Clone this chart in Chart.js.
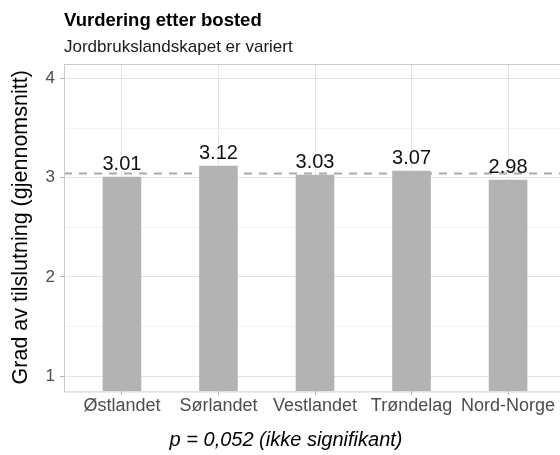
<!DOCTYPE html>
<html>
<head>
<meta charset="utf-8">
<script src="https://cdn.jsdelivr.net/npm/chart.js@4.4.1/dist/chart.umd.min.js"></script>
<style>
    html, body { margin: 0; padding: 0; background: #fff; overflow: hidden; }
    #wrap { width: 572px; height: 455px; }
</style>
</head>
<body>
<div id="wrap"><canvas id="chart"></canvas></div>
<script>
// Data
const regions = ['Østlandet', 'Sørlandet', 'Vestlandet', 'Trøndelag', 'Nord-Norge'];
const means = [3.01, 3.12, 3.03, 3.07, 2.98];
const yTicks = [1, 1.5, 2, 2.5, 3, 3.5, 4];
const caption = 'p = 0,052 (ikke signifikant)';

const FONT = "'Liberation Sans', Arial, Helvetica, sans-serif";
const overall = means.reduce((a, b) => a + b, 0) / means.length;

// Tekst over søylene
const valueLabels = {
    id: 'valueLabels',
    afterDatasetsDraw(chart) {
        const { ctx } = chart;
        const meta = chart.getDatasetMeta(0);
        ctx.save();
        ctx.font = `20px ${FONT}`;
        ctx.fillStyle = '#111';
        ctx.textAlign = 'center';
        ctx.textBaseline = 'alphabetic';
        meta.data.forEach((bar, i) => {
            ctx.fillText(means[i].toFixed(2), bar.x, bar.y - 7);
        });
        ctx.restore();
    }
};

// Ramme rundt panelet
const panelBorder = {
    id: 'panelBorder',
    afterDatasetsDraw(chart) {
        const { ctx, chartArea: a } = chart;
        ctx.save();
        ctx.strokeStyle = '#cccccc';
        ctx.lineWidth = 1;
        ctx.strokeRect(Math.round(a.left) + 0.5, Math.round(a.top) + 0.5, a.right - a.left, a.bottom - a.top);
        ctx.restore();
    }
};

// x-tittel sentrert mellom panelkant og siste kategori (som i originalen)
const captionDraw = {
    id: 'captionDraw',
    afterDraw(chart) {
        const { ctx, chartArea: a } = chart;
        const x = chart.scales.x;
        const cx = (a.left + x.getPixelForValue(regions.length - 1)) / 2;
        ctx.save();
        ctx.font = `italic 20px ${FONT}`;
        ctx.fillStyle = '#000';
        ctx.textAlign = 'center';
        ctx.textBaseline = 'middle';
        ctx.fillText(caption, cx, x.bottom - 3 - 12);
        ctx.restore();
    }
};

new Chart(document.getElementById('chart'), {
    data: {
        datasets: [{
            type: 'bar',
            data: means.map((v, i) => ({ x: i, y: v })),
            backgroundColor: '#b3b3b3',
            barPercentage: 0.4,
            categoryPercentage: 1,
            order: 1
        }, {
            type: 'line',
            data: [{ x: -0.6, y: overall }, { x: regions.length - 0.4, y: overall }],
            borderColor: '#aaaaaa',
            borderWidth: 2,
            borderDash: [8, 7],
            pointRadius: 0,
            order: 2
        }]
    },
    options: {
        responsive: true,
        maintainAspectRatio: false,
        animation: false,
        layout: { padding: { left: 8, right: 6, top: 0, bottom: 0 } },
        plugins: {
            legend: { display: false },
            tooltip: { enabled: false },
            title: {
                display: true,
                text: 'Vurdering etter bosted',
                align: 'start',
                fullSize: false,
                color: '#000',
                font: { family: FONT, size: 18.5, weight: 'bold' },
                padding: { top: 10, bottom: 3 }
            },
            subtitle: {
                display: true,
                text: 'Jordbrukslandskapet er variert',
                align: 'start',
                fullSize: false,
                color: '#1a1a1a',
                font: { family: FONT, size: 17 },
                padding: { top: 2, bottom: 6 }
            }
        },
        scales: {
            x: {
                type: 'linear',
                offset: false,
                min: -0.6,
                max: regions.length - 0.4,
                afterBuildTicks: s => { s.ticks = regions.map((_, i) => ({ value: i })); },
                afterFit: s => { s.height = 64; },
                ticks: {
                    autoSkip: false,
                    maxRotation: 0,
                    padding: 0,
                    color: '#4d4d4d',
                    font: { family: FONT, size: 18 },
                    callback: v => regions[v]
                },
                grid: { offset: false, color: '#e6e6e6', tickColor: '#b3b3b3', tickLength: 4 },
                border: { display: false },
                title: {
                    display: true,
                    text: caption,
                    color: 'rgba(0,0,0,0)',
                    font: { family: FONT, size: 20, style: 'italic' },
                    padding: { top: 0, bottom: 3 }
                }
            },
            y: {
                min: 0.85,
                max: 4.15,
                afterBuildTicks: s => { s.ticks = yTicks.map(v => ({ value: v })); },
                afterFit: s => { s.width = 56; },
                ticks: {
                    padding: 5,
                    color: '#4d4d4d',
                    font: { family: FONT, size: 17 },
                    callback: v => Number.isInteger(v) ? v : ''
                },
                grid: {
                    color: c => Number.isInteger(c.tick && c.tick.value) ? '#e3e3e3' : '#f2f2f2',
                    tickColor: c => Number.isInteger(c.tick && c.tick.value) ? '#b3b3b3' : 'rgba(0,0,0,0)',
                    tickLength: 4
                },
                border: { display: false },
                title: {
                    display: true,
                    text: 'Grad av tilslutning (gjennomsnitt)',
                    color: '#000',
                    font: { family: FONT, size: 21.5 },
                    padding: 0
                }
            }
        }
    },
    plugins: [valueLabels, panelBorder, captionDraw]
});
</script>
</body>
</html>
